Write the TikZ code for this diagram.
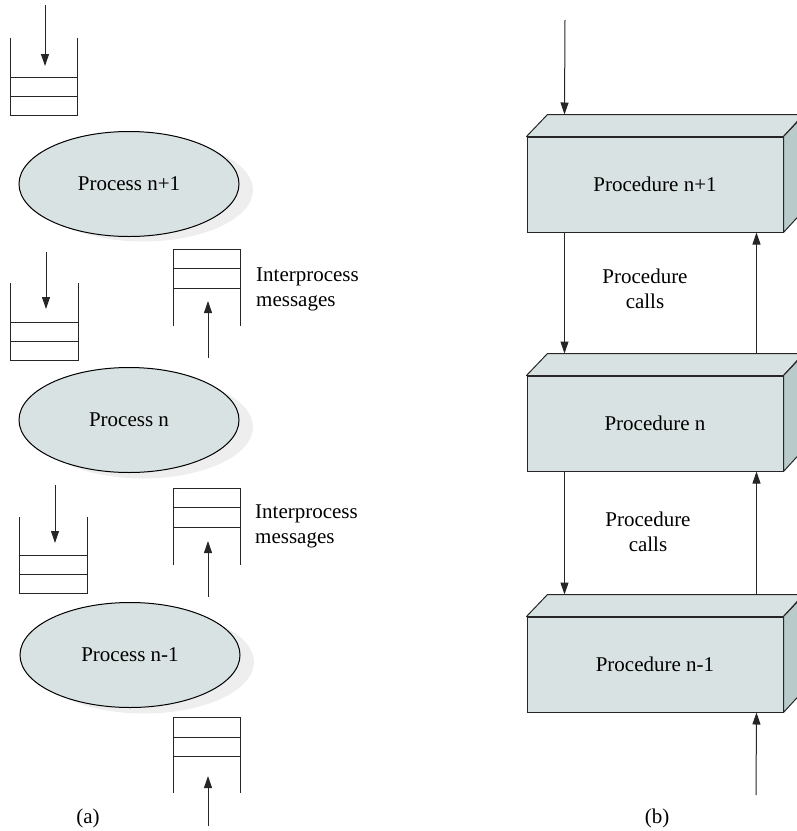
\documentclass[tikz,border=0pt]{standalone}
\usepackage{fontspec}
\setmainfont{Liberation Serif}
\usetikzlibrary{shapes.geometric,arrows.meta}
\definecolor{procfill}{HTML}{D9E2E2}
\definecolor{procside}{HTML}{B8CACA}
\definecolor{shadowc}{HTML}{EEEEEE}
\tikzset{
  every node/.style={font=\fontsize{21}{25}\selectfont},
  ln/.style={line width=1pt, draw=black!85},
  arr/.style={ln, -{Triangle[length=12pt,width=8pt]}},
  proc/.style={ellipse, draw=black, line width=1pt, fill=procfill, minimum width=220pt, minimum height=105pt, inner sep=0pt},
  shad/.style={ellipse, fill=shadowc, minimum width=220pt, minimum height=103pt, inner sep=0pt},
  pbox/.style={draw=black!85, line width=1pt, fill=procfill, minimum width=256pt, minimum height=95pt, inner sep=0pt},
  lbl/.style={align=center, inner sep=0pt},
  lbll/.style={align=left, inner sep=0pt, anchor=west}
}
\begin{document}
\begin{tikzpicture}[x=1pt,y=-1pt]
\useasboundingbox (0,0) rectangle (797,831);
\clip (0,0) rectangle (797,831);
% ---------- (a) ----------
% shadows
\node[shad] (s1) at (143,190) {};
\node[shad] (s2) at (143,427) {};
\node[shad] (s3) at (144,662) {};
\node[proc] (e1) at (129,184) {Process n+1};
\node[proc] (e2) at (129,420) {Process n};
\node[proc] (e3) at (130,655) {Process n-1};
% queue 1 (top left)
\draw[ln] (10,38) -- (10,115) -- (77,115) -- (77,38);
\draw[ln] (10,77) -- (77,77) (10,96) -- (77,96);
\coordinate (q1in) at (45,5);
\coordinate (q1t) at (45,66);
\draw[arr] (q1in) -- (q1t);
% queue 2 (left)
\draw[ln] (10,283) -- (10,360) -- (78,360) -- (78,283);
\draw[ln] (10,322) -- (78,322) (10,341) -- (78,341);
\coordinate (q2in) at (46,252);
\coordinate (q2t) at (46,309);
\draw[arr] (q2in) -- (q2t);
% queue 3 (left)
\draw[ln] (19,517) -- (19,593) -- (87,593) -- (87,517);
\draw[ln] (19,555) -- (87,555) (19,574) -- (87,574);
\coordinate (q3in) at (55,485);
\coordinate (q3t) at (55,543);
\draw[arr] (q3in) -- (q3t);
% right queue A
\draw[ln] (173,326) -- (173,249) -- (240,249) -- (240,326);
\draw[ln] (173,268) -- (240,268) (173,288) -- (240,288);
\coordinate (rAin) at (208,358);
\coordinate (rAt) at (208,301);
\draw[arr] (rAin) -- (rAt);
% right queue B
\draw[ln] (173,565) -- (173,488) -- (240,488) -- (240,565);
\draw[ln] (173,507) -- (240,507) (173,527) -- (240,527);
\coordinate (rBin) at (208,597);
\coordinate (rBt) at (208,541);
\draw[arr] (rBin) -- (rBt);
% right queue C (bottom)
\draw[ln] (173,793) -- (173,717) -- (240,717) -- (240,793);
\draw[ln] (173,737) -- (240,737) (173,756) -- (240,756);
\coordinate (rCin) at (208,826);
\coordinate (rCt) at (208,776);
\draw[arr] (rCin) -- (rCt);
\node[lbll] (m1) at (256,289) {Interprocess\\messages};
\node[lbll] (m2) at (255,526) {Interprocess\\messages};
\node[lbl] (la) at (88,818) {(a)};
% ---------- (b) ----------
\foreach \n/\yc/\t in {b1/184.5/{Procedure n+1}, b2/423.5/{Procedure n}, b3/664.5/{Procedure n-1}}{
  \node[pbox] (\n) at (655,\yc) {};
  \draw[draw=black!85, line width=1pt, fill=procfill, line join=round]
    (\n.north west) -- ++(21,-22) -- ++(256,0) -- (\n.north east) -- cycle;
  \draw[draw=black!85, line width=1pt, fill=procside, line join=round]
    (\n.north east) -- ++(21,-22) -- ++(0,95) -- (\n.south east) -- cycle;
  \node[lbl] at (\n) {\t};
}
\coordinate (bin) at (565,20);
\draw[arr] (bin) -- ([xshift=38pt,yshift=22pt]b1.north west);
\draw[arr] ([xshift=38pt]b1.south west) -- ([xshift=38pt,yshift=22pt]b2.north west);
\draw[arr] ([xshift=-27pt,yshift=22pt]b2.north east) -- ([xshift=-27pt]b1.south east);
\draw[arr] ([xshift=38pt]b2.south west) -- ([xshift=38pt,yshift=22pt]b3.north west);
\draw[arr] ([xshift=-27pt,yshift=22pt]b3.north east) -- ([xshift=-27pt]b2.south east);
\coordinate (bout) at (756,795);
\draw[arr] (bout) -- ([xshift=-27pt]b3.south east);
\node[lbl] (c1) at (645,289) {Procedure\\calls};
\node[lbl] (c2) at (648,532) {Procedure\\calls};
\node[lbl] (lb) at (657,818) {(b)};
\end{tikzpicture}
\end{document}
